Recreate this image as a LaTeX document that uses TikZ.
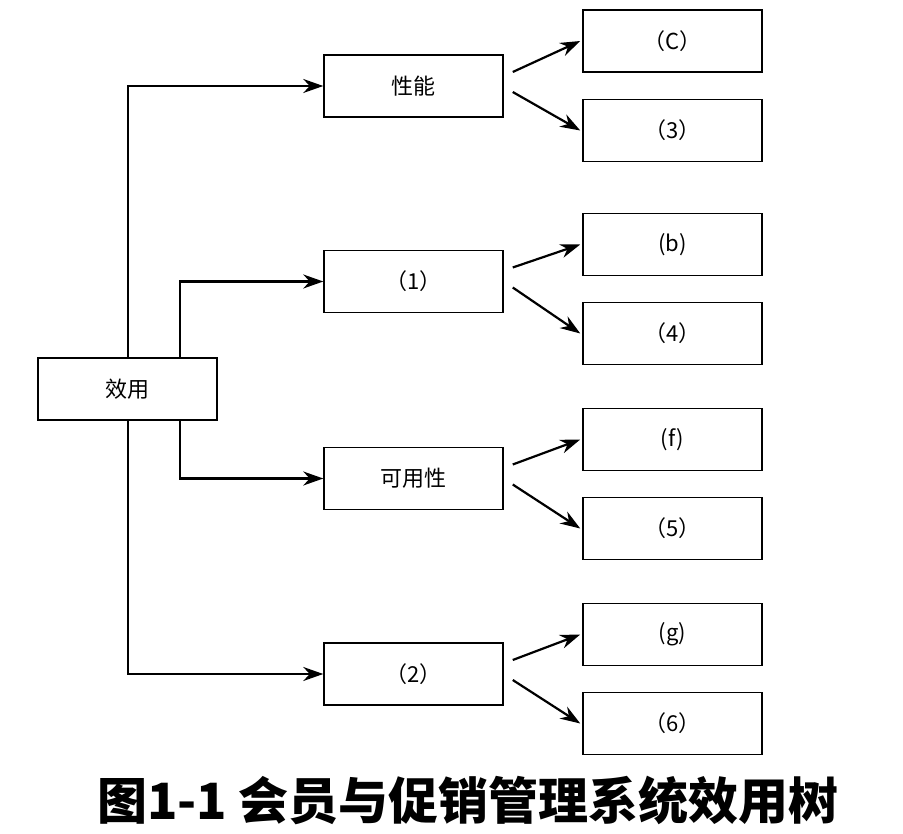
\documentclass[tikz,border=0pt]{standalone}
\usepackage{fontspec}
\setmainfont{Noto Sans CJK SC}
\usetikzlibrary{arrows.meta}
\tikzset{every picture/.style={line width=1.5pt}}
\tikzset{box/.style={draw,minimum width=179pt,minimum height=62pt,inner sep=0pt,font=\fontsize{22}{24}\selectfont},
  arr/.style={-{Stealth[length=20pt,width=14pt]},line width=2.2pt}}
\begin{document}
\begin{tikzpicture}[x=1pt,y=-1pt]
\useasboundingbox (0,0) rectangle (903,834);
%root
\node [box] (root) at (127.5,389) {效用};
%middle level
\node [box] (perf) at (413.5,86) {性能};
\node [box] (m1) at (413.5,281.5) {（1）};
\node [box] (avail) at (413.5,478.5) {可用性};
\node [box] (m2) at (413.5,674) {（2）};
%leaves
\node [box] (lc) at (672.5,41) {（C）};
\node [box] (l3) at (672.5,130.5) {（3）};
\node [box] (lb) at (672.5,244.5) {(b)};
\node [box] (l4) at (672.5,333.5) {（4）};
\node [box] (lf) at (672.5,439.5) {(f)};
\node [box] (l5) at (672.5,528.5) {（5）};
\node [box] (lg) at (672.5,634.5) {(g)};
\node [box] (l6) at (672.5,723.5) {（6）};
%root connectors
\draw [arr] (128,358) |- (perf.west);
\draw [arr] (180,358) |- (m1.west);
\draw [arr] (180,420) |- (avail.west);
\draw [arr] (128,420) |- (m2.west);
%leaf connectors
\foreach \m/\a/\b in {perf/lc/l3,m1/lb/l4,avail/lf/l5,m2/lg/l6}{
  \draw [arr] ([shift={(9,-14)}]\m.east) -- ([xshift=-2pt]\a.west);
  \draw [arr] ([shift={(9,6)}]\m.east) -- ([xshift=-2pt]\b.west);
}
% caption
\node [font=\fontsize{50}{52}\selectfont\bfseries] (cap) at (468,800) {图1-1 会员与促销管理系统效用树};
\end{tikzpicture}
\end{document}
